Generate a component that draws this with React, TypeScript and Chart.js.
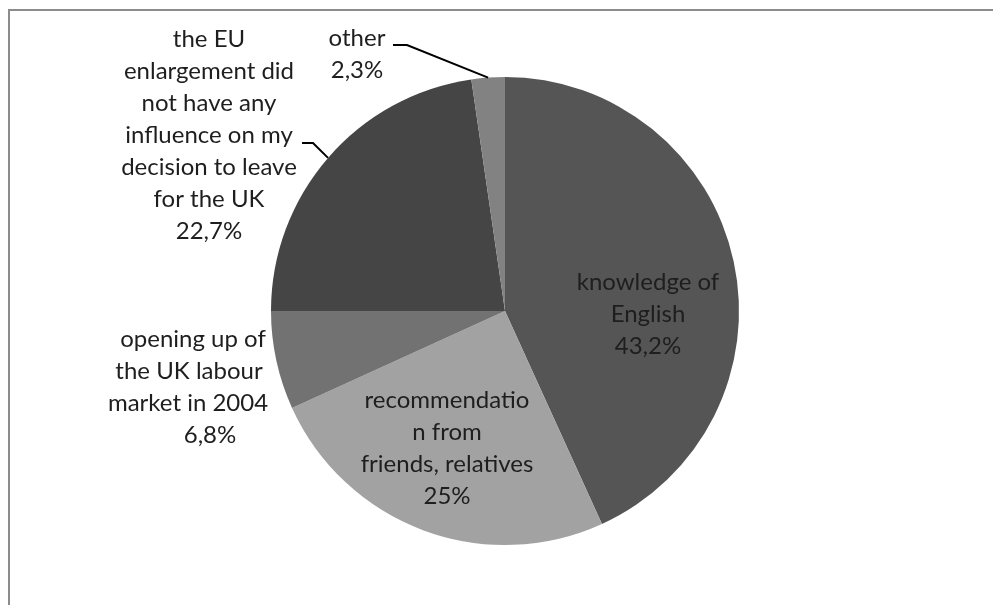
import React, { useEffect, useRef } from "react";
import { Chart, registerables } from "chart.js";

Chart.register(...registerables);

const categories = [
  "knowledge of English",
  "recommendation from friends, relatives",
  "opening up of the UK labour market in 2004",
  "the EU enlargement did not have any influence on my decision to leave for the UK",
  "other",
];
const shares = [43.2, 25, 6.8, 22.7, 2.3];
const shareLabels = ["43,2%", "25%", "6,8%", "22,7%", "2,3%"];
const wrappedLabels = [
  ["knowledge of", "English"],
  ["recommendatio", "n from", "friends, relatives"],
  ["opening up of", "the UK labour", "market in 2004"],
  ["the EU", "enlargement did", "not have any", "influence on my", "decision to leave", "for the UK"],
  ["other"],
];
const sliceColors = ["#555555", "#a2a2a2", "#727272", "#454545", "#828282"];

// label placement relative to pie centre (px): text centre x, first baseline y
const labelAnchors = [
  { dx: 143, dy: -21 },
  { dx: -58, dy: 97 },
  { dx: -295, dy: 36 },
  { dx: -296, dy: -264 },
  { dx: -148, dy: -265 },
];
// per-line horizontal nudges (px) for labels whose lines are not on one centre
const lineNudges: Record<number, number[]> = {
  2: [-17, -21, -22, 0],
};
// leader lines: [start, elbow] relative to centre, then to arc edge
const leaders: Record<number, { sx: number; sy: number; ex: number; ey: number }> = {
  3: { sx: -203, sy: -168, ex: -192, ey: -168 },
  4: { sx: -112, sy: -266, ex: -98, ey: -266 },
};

const LINE_H = 32;
const FONT = '24px Lato, "Open Sans", sans-serif';

const labelPlugin = {
  id: "sliceLabels",
  afterDatasetsDraw(chart: any) {
    const ctx = chart.ctx as CanvasRenderingContext2D;
    const meta = chart.getDatasetMeta(0);
    ctx.save();
    meta.data.forEach((arc: any, i: number) => {
      const cx = arc.x;
      const cy = arc.y;
      const a = labelAnchors[i];
      const lines = [...wrappedLabels[i], shareLabels[i]];
      const nudges = lineNudges[i] || [];
      ctx.font = FONT;
      ctx.fillStyle = "#1e1e1e";
      ctx.textAlign = "center";
      ctx.textBaseline = "alphabetic";
      lines.forEach((t, k) => {
        ctx.fillText(t, cx + a.dx + (nudges[k] || 0), cy + a.dy + k * LINE_H);
      });
      const ld = leaders[i];
      if (ld) {
        const mid = (arc.startAngle + arc.endAngle) / 2;
        const r = arc.outerRadius;
        ctx.beginPath();
        ctx.strokeStyle = "#000000";
        ctx.lineWidth = 2;
        ctx.moveTo(cx + ld.sx, cy + ld.sy);
        ctx.lineTo(cx + ld.ex, cy + ld.ey);
        ctx.lineTo(cx + Math.cos(mid) * r, cy + Math.sin(mid) * r);
        ctx.stroke();
      }
    });
    ctx.restore();
  },
};

const framePlugin = {
  id: "frame",
  beforeDraw(chart: any) {
    const ctx = chart.ctx as CanvasRenderingContext2D;
    ctx.save();
    ctx.fillStyle = "#ffffff";
    ctx.fillRect(0, 0, chart.width, chart.height);
    ctx.strokeStyle = "#8c8c8c";
    ctx.lineWidth = 2;
    ctx.strokeRect(9, 10, chart.width + 20, chart.height + 20);
    ctx.restore();
  },
};

export default function App() {
  const ref = useRef<HTMLCanvasElement | null>(null);
  useEffect(() => {
    if (!ref.current) return;
    const chart = new Chart(ref.current, {
      type: "pie",
      data: {
        labels: categories,
        datasets: [
          {
            data: shares,
            backgroundColor: sliceColors,
            borderWidth: 0,
          },
        ],
      },
      options: {
        responsive: false,
        animation: false,
        rotation: 0,
        layout: { padding: { top: 77, bottom: 60, left: 271, right: 254 } },
        plugins: {
          legend: { display: false },
          tooltip: { enabled: false },
          title: { display: false },
        },
      },
      plugins: [framePlugin, labelPlugin],
    });
    return () => chart.destroy();
  }, []);
  return (
    <div style={{ position: "fixed", left: 0, top: 0, width: 993, height: 605, background: "#fff" }}>
      <canvas ref={ref} width={993} height={605} style={{ display: "block", width: 993, height: 605 }} />
    </div>
  );
}
